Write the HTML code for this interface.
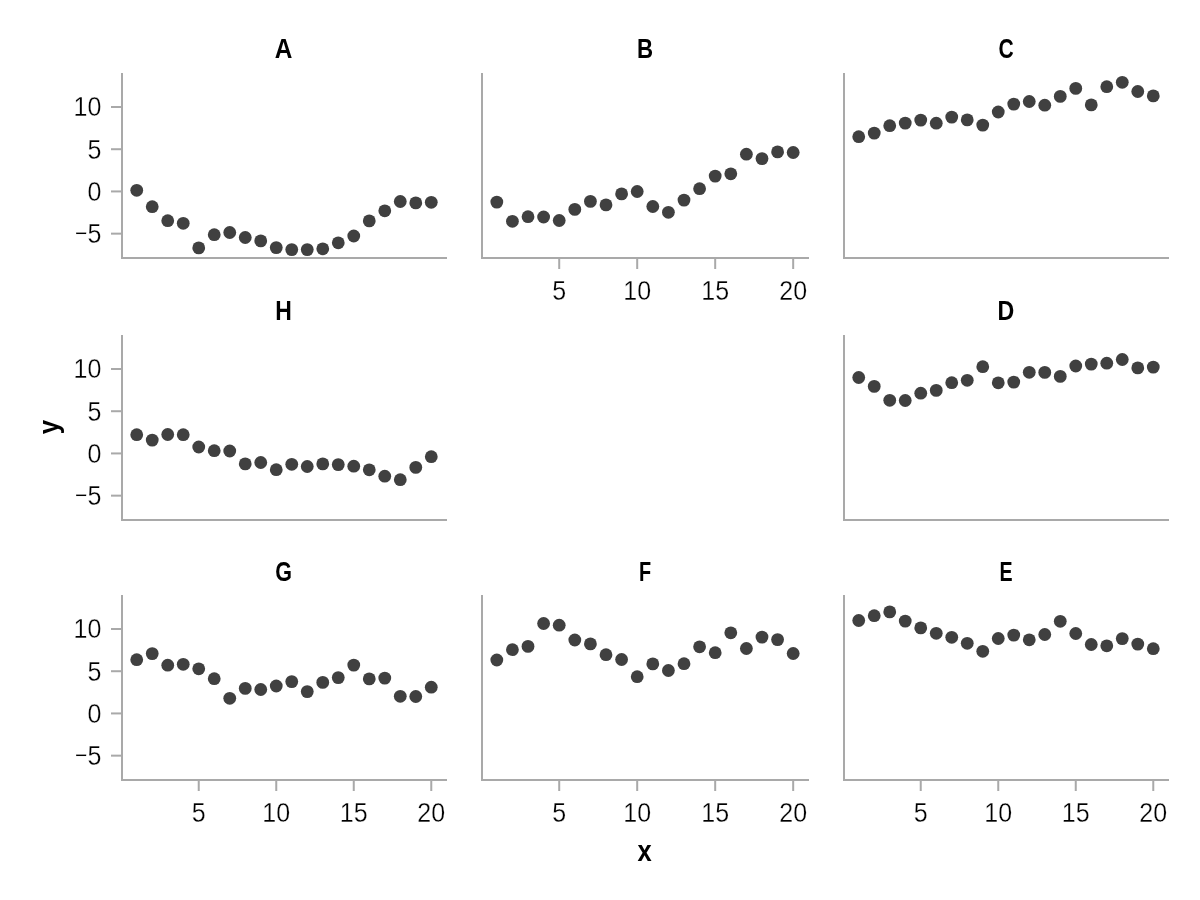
<!DOCTYPE html><html><head><meta charset="utf-8"><title>Faceted scatter</title><style>html,body{margin:0;padding:0;background:#fff;width:1200px;height:900px;overflow:hidden}svg{display:block;will-change:transform}</style><style>.tl{font-family:'Liberation Sans', sans-serif;font-size:27.2px;fill:#000;stroke:#fff;stroke-width:0.3px}.ti{font-family:'Liberation Sans', sans-serif;font-size:27.5px;font-weight:bold;fill:#000}</style></head><body>
<svg width="1200" height="900" viewBox="0 0 1200 900">
<rect width="1200" height="900" fill="#fff"/>
<g>
<rect x="121" y="73" width="2" height="186" fill="#a9a9a9"/>
<rect x="121" y="257" width="326" height="2" fill="#a9a9a9"/>
<rect x="111" y="232.65" width="10" height="2" fill="#a9a9a9"/>
<rect x="111" y="190.43" width="10" height="2" fill="#a9a9a9"/>
<rect x="111" y="148.22" width="10" height="2" fill="#a9a9a9"/>
<rect x="111" y="106.00" width="10" height="2" fill="#a9a9a9"/>
<circle cx="136.73" cy="190.30" r="6.4" fill="#404040"/>
<circle cx="152.23" cy="206.70" r="6.4" fill="#404040"/>
<circle cx="167.73" cy="220.70" r="6.4" fill="#404040"/>
<circle cx="183.23" cy="223.30" r="6.4" fill="#404040"/>
<circle cx="198.74" cy="247.90" r="6.4" fill="#404040"/>
<circle cx="214.24" cy="234.70" r="6.4" fill="#404040"/>
<circle cx="229.74" cy="232.50" r="6.4" fill="#404040"/>
<circle cx="245.24" cy="237.50" r="6.4" fill="#404040"/>
<circle cx="260.75" cy="240.90" r="6.4" fill="#404040"/>
<circle cx="276.25" cy="247.60" r="6.4" fill="#404040"/>
<circle cx="291.75" cy="249.60" r="6.4" fill="#404040"/>
<circle cx="307.25" cy="249.60" r="6.4" fill="#404040"/>
<circle cx="322.76" cy="248.80" r="6.4" fill="#404040"/>
<circle cx="338.26" cy="242.80" r="6.4" fill="#404040"/>
<circle cx="353.76" cy="236.00" r="6.4" fill="#404040"/>
<circle cx="369.26" cy="220.90" r="6.4" fill="#404040"/>
<circle cx="384.77" cy="210.80" r="6.4" fill="#404040"/>
<circle cx="400.27" cy="201.50" r="6.4" fill="#404040"/>
<circle cx="415.77" cy="202.90" r="6.4" fill="#404040"/>
<circle cx="431.27" cy="202.30" r="6.4" fill="#404040"/>
<text class="ti" transform="translate(283.6,58.0) scale(0.887,1)" text-anchor="middle">A</text>
<text class="tl" transform="translate(101.3,233.65) scale(0.92,1)" text-anchor="end" dominant-baseline="central"><tspan style="font-size:23px" dy="-1.1">−</tspan><tspan dy="1.1" dx="0">5</tspan></text>
<text class="tl" transform="translate(101.3,191.43) scale(0.92,1)" text-anchor="end" dominant-baseline="central">0</text>
<text class="tl" transform="translate(101.3,149.22) scale(0.92,1)" text-anchor="end" dominant-baseline="central">5</text>
<text class="tl" transform="translate(101.3,107.00) scale(0.92,1)" text-anchor="end" dominant-baseline="central">10</text>
</g>
<g>
<rect x="481" y="73" width="2" height="186" fill="#a9a9a9"/>
<rect x="481" y="257" width="328" height="2" fill="#a9a9a9"/>
<rect x="558.21" y="259" width="2" height="10" fill="#a9a9a9"/>
<rect x="636.20" y="259" width="2" height="10" fill="#a9a9a9"/>
<rect x="714.19" y="259" width="2" height="10" fill="#a9a9a9"/>
<rect x="792.18" y="259" width="2" height="10" fill="#a9a9a9"/>
<circle cx="496.82" cy="202.10" r="6.4" fill="#404040"/>
<circle cx="512.42" cy="221.30" r="6.4" fill="#404040"/>
<circle cx="528.01" cy="216.70" r="6.4" fill="#404040"/>
<circle cx="543.61" cy="217.00" r="6.4" fill="#404040"/>
<circle cx="559.21" cy="220.50" r="6.4" fill="#404040"/>
<circle cx="574.81" cy="209.40" r="6.4" fill="#404040"/>
<circle cx="590.41" cy="201.40" r="6.4" fill="#404040"/>
<circle cx="606.00" cy="204.90" r="6.4" fill="#404040"/>
<circle cx="621.60" cy="193.90" r="6.4" fill="#404040"/>
<circle cx="637.20" cy="191.50" r="6.4" fill="#404040"/>
<circle cx="652.80" cy="206.50" r="6.4" fill="#404040"/>
<circle cx="668.40" cy="212.30" r="6.4" fill="#404040"/>
<circle cx="684.00" cy="200.10" r="6.4" fill="#404040"/>
<circle cx="699.59" cy="188.70" r="6.4" fill="#404040"/>
<circle cx="715.19" cy="176.10" r="6.4" fill="#404040"/>
<circle cx="730.79" cy="173.80" r="6.4" fill="#404040"/>
<circle cx="746.39" cy="154.20" r="6.4" fill="#404040"/>
<circle cx="761.99" cy="158.60" r="6.4" fill="#404040"/>
<circle cx="777.58" cy="151.90" r="6.4" fill="#404040"/>
<circle cx="793.18" cy="152.50" r="6.4" fill="#404040"/>
<text class="ti" transform="translate(645.0,58.0) scale(0.809,1)" text-anchor="middle">B</text>
<text class="tl" transform="translate(559.21,300.0) scale(0.92,1)" text-anchor="middle">5</text>
<text class="tl" transform="translate(637.20,300.0) scale(0.92,1)" text-anchor="middle">10</text>
<text class="tl" transform="translate(715.19,300.0) scale(0.92,1)" text-anchor="middle">15</text>
<text class="tl" transform="translate(793.18,300.0) scale(0.92,1)" text-anchor="middle">20</text>
</g>
<g>
<rect x="843" y="73" width="2" height="186" fill="#a9a9a9"/>
<rect x="843" y="257" width="326" height="2" fill="#a9a9a9"/>
<circle cx="858.73" cy="136.70" r="6.4" fill="#404040"/>
<circle cx="874.23" cy="133.10" r="6.4" fill="#404040"/>
<circle cx="889.73" cy="125.70" r="6.4" fill="#404040"/>
<circle cx="905.23" cy="123.10" r="6.4" fill="#404040"/>
<circle cx="920.74" cy="120.10" r="6.4" fill="#404040"/>
<circle cx="936.24" cy="123.20" r="6.4" fill="#404040"/>
<circle cx="951.74" cy="117.10" r="6.4" fill="#404040"/>
<circle cx="967.24" cy="119.90" r="6.4" fill="#404040"/>
<circle cx="982.75" cy="125.10" r="6.4" fill="#404040"/>
<circle cx="998.25" cy="112.00" r="6.4" fill="#404040"/>
<circle cx="1013.75" cy="104.10" r="6.4" fill="#404040"/>
<circle cx="1029.25" cy="101.50" r="6.4" fill="#404040"/>
<circle cx="1044.76" cy="105.20" r="6.4" fill="#404040"/>
<circle cx="1060.26" cy="96.40" r="6.4" fill="#404040"/>
<circle cx="1075.76" cy="88.40" r="6.4" fill="#404040"/>
<circle cx="1091.26" cy="104.90" r="6.4" fill="#404040"/>
<circle cx="1106.77" cy="86.70" r="6.4" fill="#404040"/>
<circle cx="1122.27" cy="82.30" r="6.4" fill="#404040"/>
<circle cx="1137.77" cy="91.50" r="6.4" fill="#404040"/>
<circle cx="1153.27" cy="95.90" r="6.4" fill="#404040"/>
<text class="ti" transform="translate(1006.0,58.0) scale(0.766,1)" text-anchor="middle">C</text>
</g>
<g>
<rect x="121" y="335" width="2" height="186" fill="#a9a9a9"/>
<rect x="121" y="519" width="326" height="2" fill="#a9a9a9"/>
<rect x="111" y="494.65" width="10" height="2" fill="#a9a9a9"/>
<rect x="111" y="452.43" width="10" height="2" fill="#a9a9a9"/>
<rect x="111" y="410.22" width="10" height="2" fill="#a9a9a9"/>
<rect x="111" y="368.00" width="10" height="2" fill="#a9a9a9"/>
<circle cx="136.73" cy="434.70" r="6.4" fill="#404040"/>
<circle cx="152.23" cy="440.10" r="6.4" fill="#404040"/>
<circle cx="167.73" cy="434.50" r="6.4" fill="#404040"/>
<circle cx="183.23" cy="434.70" r="6.4" fill="#404040"/>
<circle cx="198.74" cy="447.00" r="6.4" fill="#404040"/>
<circle cx="214.24" cy="450.70" r="6.4" fill="#404040"/>
<circle cx="229.74" cy="451.00" r="6.4" fill="#404040"/>
<circle cx="245.24" cy="463.90" r="6.4" fill="#404040"/>
<circle cx="260.75" cy="462.50" r="6.4" fill="#404040"/>
<circle cx="276.25" cy="469.70" r="6.4" fill="#404040"/>
<circle cx="291.75" cy="464.30" r="6.4" fill="#404040"/>
<circle cx="307.25" cy="466.50" r="6.4" fill="#404040"/>
<circle cx="322.76" cy="463.90" r="6.4" fill="#404040"/>
<circle cx="338.26" cy="464.60" r="6.4" fill="#404040"/>
<circle cx="353.76" cy="466.20" r="6.4" fill="#404040"/>
<circle cx="369.26" cy="469.80" r="6.4" fill="#404040"/>
<circle cx="384.77" cy="476.20" r="6.4" fill="#404040"/>
<circle cx="400.27" cy="479.70" r="6.4" fill="#404040"/>
<circle cx="415.77" cy="467.40" r="6.4" fill="#404040"/>
<circle cx="431.27" cy="456.70" r="6.4" fill="#404040"/>
<text class="ti" transform="translate(283.6,320.0) scale(0.835,1)" text-anchor="middle">H</text>
<text class="tl" transform="translate(101.3,495.65) scale(0.92,1)" text-anchor="end" dominant-baseline="central"><tspan style="font-size:23px" dy="-1.1">−</tspan><tspan dy="1.1" dx="0">5</tspan></text>
<text class="tl" transform="translate(101.3,453.43) scale(0.92,1)" text-anchor="end" dominant-baseline="central">0</text>
<text class="tl" transform="translate(101.3,411.22) scale(0.92,1)" text-anchor="end" dominant-baseline="central">5</text>
<text class="tl" transform="translate(101.3,369.00) scale(0.92,1)" text-anchor="end" dominant-baseline="central">10</text>
</g>
<g>
<rect x="843" y="335" width="2" height="186" fill="#a9a9a9"/>
<rect x="843" y="519" width="326" height="2" fill="#a9a9a9"/>
<circle cx="858.73" cy="377.50" r="6.4" fill="#404040"/>
<circle cx="874.23" cy="386.40" r="6.4" fill="#404040"/>
<circle cx="889.73" cy="400.30" r="6.4" fill="#404040"/>
<circle cx="905.23" cy="400.50" r="6.4" fill="#404040"/>
<circle cx="920.74" cy="393.20" r="6.4" fill="#404040"/>
<circle cx="936.24" cy="390.40" r="6.4" fill="#404040"/>
<circle cx="951.74" cy="382.70" r="6.4" fill="#404040"/>
<circle cx="967.24" cy="380.30" r="6.4" fill="#404040"/>
<circle cx="982.75" cy="366.70" r="6.4" fill="#404040"/>
<circle cx="998.25" cy="382.80" r="6.4" fill="#404040"/>
<circle cx="1013.75" cy="382.10" r="6.4" fill="#404040"/>
<circle cx="1029.25" cy="372.30" r="6.4" fill="#404040"/>
<circle cx="1044.76" cy="372.40" r="6.4" fill="#404040"/>
<circle cx="1060.26" cy="376.40" r="6.4" fill="#404040"/>
<circle cx="1075.76" cy="366.00" r="6.4" fill="#404040"/>
<circle cx="1091.26" cy="364.10" r="6.4" fill="#404040"/>
<circle cx="1106.77" cy="363.20" r="6.4" fill="#404040"/>
<circle cx="1122.27" cy="359.50" r="6.4" fill="#404040"/>
<circle cx="1137.77" cy="367.90" r="6.4" fill="#404040"/>
<circle cx="1153.27" cy="367.10" r="6.4" fill="#404040"/>
<text class="ti" transform="translate(1006.0,320.0) scale(0.844,1)" text-anchor="middle">D</text>
</g>
<g>
<rect x="121" y="595" width="2" height="186" fill="#a9a9a9"/>
<rect x="121" y="779" width="326" height="2" fill="#a9a9a9"/>
<rect x="111" y="754.65" width="10" height="2" fill="#a9a9a9"/>
<rect x="111" y="712.43" width="10" height="2" fill="#a9a9a9"/>
<rect x="111" y="670.22" width="10" height="2" fill="#a9a9a9"/>
<rect x="111" y="628.00" width="10" height="2" fill="#a9a9a9"/>
<rect x="197.74" y="781" width="2" height="10" fill="#a9a9a9"/>
<rect x="275.25" y="781" width="2" height="10" fill="#a9a9a9"/>
<rect x="352.76" y="781" width="2" height="10" fill="#a9a9a9"/>
<rect x="430.27" y="781" width="2" height="10" fill="#a9a9a9"/>
<circle cx="136.73" cy="659.70" r="6.4" fill="#404040"/>
<circle cx="152.23" cy="653.60" r="6.4" fill="#404040"/>
<circle cx="167.73" cy="665.20" r="6.4" fill="#404040"/>
<circle cx="183.23" cy="664.30" r="6.4" fill="#404040"/>
<circle cx="198.74" cy="668.80" r="6.4" fill="#404040"/>
<circle cx="214.24" cy="678.70" r="6.4" fill="#404040"/>
<circle cx="229.74" cy="698.30" r="6.4" fill="#404040"/>
<circle cx="245.24" cy="688.40" r="6.4" fill="#404040"/>
<circle cx="260.75" cy="689.50" r="6.4" fill="#404040"/>
<circle cx="276.25" cy="686.00" r="6.4" fill="#404040"/>
<circle cx="291.75" cy="681.60" r="6.4" fill="#404040"/>
<circle cx="307.25" cy="691.60" r="6.4" fill="#404040"/>
<circle cx="322.76" cy="682.40" r="6.4" fill="#404040"/>
<circle cx="338.26" cy="677.60" r="6.4" fill="#404040"/>
<circle cx="353.76" cy="665.10" r="6.4" fill="#404040"/>
<circle cx="369.26" cy="678.90" r="6.4" fill="#404040"/>
<circle cx="384.77" cy="678.10" r="6.4" fill="#404040"/>
<circle cx="400.27" cy="696.30" r="6.4" fill="#404040"/>
<circle cx="415.77" cy="696.50" r="6.4" fill="#404040"/>
<circle cx="431.27" cy="687.20" r="6.4" fill="#404040"/>
<text class="ti" transform="translate(283.6,581.0) scale(0.783,1)" text-anchor="middle">G</text>
<text class="tl" transform="translate(101.3,755.65) scale(0.92,1)" text-anchor="end" dominant-baseline="central"><tspan style="font-size:23px" dy="-1.1">−</tspan><tspan dy="1.1" dx="0">5</tspan></text>
<text class="tl" transform="translate(101.3,713.43) scale(0.92,1)" text-anchor="end" dominant-baseline="central">0</text>
<text class="tl" transform="translate(101.3,671.22) scale(0.92,1)" text-anchor="end" dominant-baseline="central">5</text>
<text class="tl" transform="translate(101.3,629.00) scale(0.92,1)" text-anchor="end" dominant-baseline="central">10</text>
<text class="tl" transform="translate(198.74,822.0) scale(0.92,1)" text-anchor="middle">5</text>
<text class="tl" transform="translate(276.25,822.0) scale(0.92,1)" text-anchor="middle">10</text>
<text class="tl" transform="translate(353.76,822.0) scale(0.92,1)" text-anchor="middle">15</text>
<text class="tl" transform="translate(431.27,822.0) scale(0.92,1)" text-anchor="middle">20</text>
</g>
<g>
<rect x="481" y="595" width="2" height="186" fill="#a9a9a9"/>
<rect x="481" y="779" width="328" height="2" fill="#a9a9a9"/>
<rect x="558.21" y="781" width="2" height="10" fill="#a9a9a9"/>
<rect x="636.20" y="781" width="2" height="10" fill="#a9a9a9"/>
<rect x="714.19" y="781" width="2" height="10" fill="#a9a9a9"/>
<rect x="792.18" y="781" width="2" height="10" fill="#a9a9a9"/>
<circle cx="496.82" cy="660.00" r="6.4" fill="#404040"/>
<circle cx="512.42" cy="649.70" r="6.4" fill="#404040"/>
<circle cx="528.01" cy="646.40" r="6.4" fill="#404040"/>
<circle cx="543.61" cy="623.50" r="6.4" fill="#404040"/>
<circle cx="559.21" cy="625.20" r="6.4" fill="#404040"/>
<circle cx="574.81" cy="640.00" r="6.4" fill="#404040"/>
<circle cx="590.41" cy="643.90" r="6.4" fill="#404040"/>
<circle cx="606.00" cy="654.70" r="6.4" fill="#404040"/>
<circle cx="621.60" cy="659.50" r="6.4" fill="#404040"/>
<circle cx="637.20" cy="676.70" r="6.4" fill="#404040"/>
<circle cx="652.80" cy="663.90" r="6.4" fill="#404040"/>
<circle cx="668.40" cy="670.50" r="6.4" fill="#404040"/>
<circle cx="684.00" cy="663.70" r="6.4" fill="#404040"/>
<circle cx="699.59" cy="646.80" r="6.4" fill="#404040"/>
<circle cx="715.19" cy="652.70" r="6.4" fill="#404040"/>
<circle cx="730.79" cy="632.80" r="6.4" fill="#404040"/>
<circle cx="746.39" cy="648.50" r="6.4" fill="#404040"/>
<circle cx="761.99" cy="637.10" r="6.4" fill="#404040"/>
<circle cx="777.58" cy="639.60" r="6.4" fill="#404040"/>
<circle cx="793.18" cy="653.50" r="6.4" fill="#404040"/>
<text class="ti" transform="translate(645.0,581.0) scale(0.722,1)" text-anchor="middle">F</text>
<text class="tl" transform="translate(559.21,822.0) scale(0.92,1)" text-anchor="middle">5</text>
<text class="tl" transform="translate(637.20,822.0) scale(0.92,1)" text-anchor="middle">10</text>
<text class="tl" transform="translate(715.19,822.0) scale(0.92,1)" text-anchor="middle">15</text>
<text class="tl" transform="translate(793.18,822.0) scale(0.92,1)" text-anchor="middle">20</text>
</g>
<g>
<rect x="843" y="595" width="2" height="186" fill="#a9a9a9"/>
<rect x="843" y="779" width="326" height="2" fill="#a9a9a9"/>
<rect x="919.74" y="781" width="2" height="10" fill="#a9a9a9"/>
<rect x="997.25" y="781" width="2" height="10" fill="#a9a9a9"/>
<rect x="1074.76" y="781" width="2" height="10" fill="#a9a9a9"/>
<rect x="1152.27" y="781" width="2" height="10" fill="#a9a9a9"/>
<circle cx="858.73" cy="620.50" r="6.4" fill="#404040"/>
<circle cx="874.23" cy="615.70" r="6.4" fill="#404040"/>
<circle cx="889.73" cy="611.90" r="6.4" fill="#404040"/>
<circle cx="905.23" cy="621.10" r="6.4" fill="#404040"/>
<circle cx="920.74" cy="627.90" r="6.4" fill="#404040"/>
<circle cx="936.24" cy="633.30" r="6.4" fill="#404040"/>
<circle cx="951.74" cy="637.30" r="6.4" fill="#404040"/>
<circle cx="967.24" cy="643.30" r="6.4" fill="#404040"/>
<circle cx="982.75" cy="651.30" r="6.4" fill="#404040"/>
<circle cx="998.25" cy="638.50" r="6.4" fill="#404040"/>
<circle cx="1013.75" cy="635.10" r="6.4" fill="#404040"/>
<circle cx="1029.25" cy="639.80" r="6.4" fill="#404040"/>
<circle cx="1044.76" cy="634.50" r="6.4" fill="#404040"/>
<circle cx="1060.26" cy="621.30" r="6.4" fill="#404040"/>
<circle cx="1075.76" cy="633.50" r="6.4" fill="#404040"/>
<circle cx="1091.26" cy="644.50" r="6.4" fill="#404040"/>
<circle cx="1106.77" cy="645.80" r="6.4" fill="#404040"/>
<circle cx="1122.27" cy="638.60" r="6.4" fill="#404040"/>
<circle cx="1137.77" cy="644.10" r="6.4" fill="#404040"/>
<circle cx="1153.27" cy="648.70" r="6.4" fill="#404040"/>
<text class="ti" transform="translate(1006.0,581.0) scale(0.713,1)" text-anchor="middle">E</text>
<text class="tl" transform="translate(920.74,822.0) scale(0.92,1)" text-anchor="middle">5</text>
<text class="tl" transform="translate(998.25,822.0) scale(0.92,1)" text-anchor="middle">10</text>
<text class="tl" transform="translate(1075.76,822.0) scale(0.92,1)" text-anchor="middle">15</text>
<text class="tl" transform="translate(1153.27,822.0) scale(0.92,1)" text-anchor="middle">20</text>
</g>
<text class="ti" style="font-size:29px" transform="translate(644.5,860.5) scale(0.88,1)" text-anchor="middle">x</text>
<text class="ti" style="font-size:28px" transform="translate(58.0,427) rotate(-90) scale(0.92,1)" x="0" y="0" text-anchor="middle">y</text>
</svg></body></html>
